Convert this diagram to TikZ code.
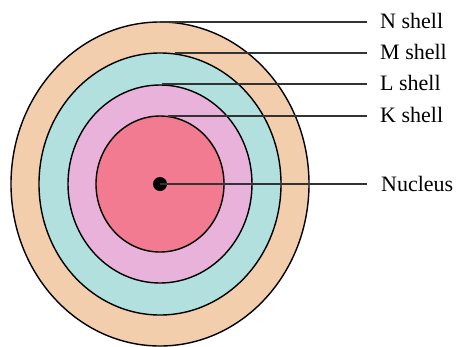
\documentclass[tikz,border=0pt]{standalone}
\usepackage{fontspec}
\setmainfont{Liberation Serif}
\definecolor{nshellc}{HTML}{F2CEAC}
\definecolor{mshellc}{HTML}{B2E0DF}
\definecolor{lshellc}{HTML}{E8B2DA}
\definecolor{kshellc}{HTML}{F27B92}
\begin{document}
\begin{tikzpicture}[x=1pt, y=-1pt,
    every node/.style={inner sep=0pt, anchor=west, font=\fontsize{22}{26}\selectfont},
    shell/.style={draw=black, line width=1.4pt},
    pointer/.style={draw=black!80, line width=1.5pt}]
    \useasboundingbox (0,0) rectangle (458,346);
    \coordinate (c) at (160,184);

    \draw[shell, fill=nshellc] (c) ellipse [x radius=149pt, y radius=162pt];
    \draw[shell, fill=mshellc] (c) ellipse [x radius=121pt, y radius=131pt];
    \draw[shell, fill=lshellc] (c) ellipse [x radius=92pt, y radius=99pt];
    \draw[shell, fill=kshellc] (c) ellipse [x radius=64pt, y radius=68pt];
    \fill[black] (c) circle [radius=7pt];

    \coordinate (ntop) at (160,22);
    \coordinate (mtop) at (175,53);
    \coordinate (ltop) at (162,84);
    \coordinate (ktop) at (168,116);

    \node (nlab) at (380,21) {N shell};
    \node (mlab) at (380,52) {M shell};
    \node (llab) at (380,83) {L shell};
    \node (klab) at (380,115) {K shell};
    \node (nuclab) at (381,184) {Nucleus};

    \draw[pointer] (ntop) -- (ntop -| 367,0);
    \draw[pointer] (mtop) -- (mtop -| 367,0);
    \draw[pointer] (ltop) -- (ltop -| 367,0);
    \draw[pointer] (ktop) -- (ktop -| 367,0);
    \draw[pointer] (c) -- (c -| 367,0);
\end{tikzpicture}
\end{document}
